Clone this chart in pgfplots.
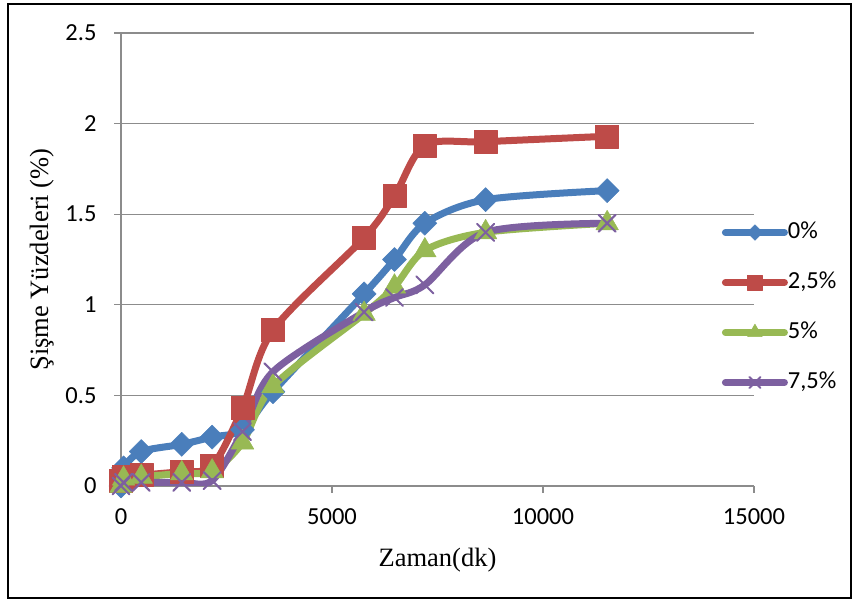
\documentclass[border=0pt]{standalone}
\usepackage{fontspec}
\setmainfont{Carlito}
\newfontfamily\seriffont{Liberation Serif}
\usepackage{pgfplots}
\pgfplotsset{compat=1.18}
\definecolor{cblue}{HTML}{4A7EBB}
\definecolor{cred}{HTML}{BE4B48}
\definecolor{cgreen}{HTML}{98B954}
\definecolor{cpurple}{HTML}{7D60A0}
\definecolor{cgrid}{HTML}{8C8C8C}
\begin{document}
\begin{tikzpicture}[x=1bp,y=1bp]
\useasboundingbox (0,0) rectangle (854,601);
\draw[line width=1.5bp] (8,3) rectangle (851,597);
\begin{axis}[
  at={(121bp,115bp)}, anchor=south west,
  scale only axis, width=633bp, height=453bp,
  xmin=0, xmax=15000, ymin=0, ymax=2.5,
  axis x line=bottom, axis y line=left,
  axis line style={draw=cgrid, line width=1.2bp, -},
  xtick={0,5000,10000,15000},
  ytick={0,0.5,1,1.5,2,2.5},
  scaled ticks=false,
  ymajorgrids, grid style={draw=cgrid, line width=1.2bp},
  tick align=outside, major tick length=7bp,
  tick style={draw=cgrid, line width=1.2bp},
  /pgf/number format/assume math mode=true,
  /pgf/number format/1000 sep={},
  every tick label/.append style={font=\fontsize{24.5bp}{29bp}\selectfont},
  xticklabel style={yshift=-12bp},
  yticklabel style={xshift=-14bp},
  xlabel={\seriffont Zaman(dk)},
  ylabel={\seriffont Şişme Yüzdeleri (\%)},
  label style={font=\fontsize{26.5bp}{31bp}\selectfont},
  xlabel style={at={(axis description cs:0.5,-0.163)}, anchor=center},
  ylabel style={at={(axis description cs:-0.125,0.5)}, anchor=center},
  legend style={at={(axis description cs:0.949,0.394)}, anchor=west, draw=none, fill=none,
    font=\fontsize{24.5bp}{29bp}\selectfont, inner sep=0pt, row sep=28bp,
    nodes={inner sep=0pt, text height=17bp, text depth=5bp}},
  legend cell align=left,
  legend image code/.code={\draw[#1, mark repeat=2, mark phase=2, every mark/.append style={scale=0.65}] plot coordinates {(0bp,0bp) (29.5bp,0bp) (59bp,0bp)};},
  every axis plot/.append style={line width=7bp, smooth, line cap=round, line join=round},
]
\addplot[cblue, mark=square*, mark size=8.5bp, mark options={rotate=45, line width=0.5bp, fill=cblue}] coordinates {
(0,0) (60,0.1) (480,0.19) (1440,0.23) (2160,0.27) (2880,0.31) (3600,0.52) (5760,1.06) (6480,1.25) (7200,1.45) (8640,1.58) (11520,1.63)};
\addlegendentry{0\%}
\addplot[cred, mark=square*, mark size=11.5bp, mark options={line width=0.5bp, fill=cred}] coordinates {
(0,0.03) (60,0.05) (480,0.06) (1440,0.08) (2160,0.11) (2880,0.43) (3600,0.86) (5760,1.37) (6480,1.6) (7200,1.88) (8640,1.9) (11520,1.93)};
\addlegendentry{2,5\%}
\addplot[cgreen, mark=triangle*, mark size=13bp, mark options={line width=0.5bp, fill=cgreen}] coordinates {
(0,0) (60,0.04) (480,0.05) (1440,0.07) (2160,0.08) (2880,0.24) (3600,0.55) (5760,0.95) (6480,1.1) (7200,1.3) (8640,1.4) (11520,1.45)};
\addlegendentry{5\%}
\addplot[cpurple, mark=x, mark size=12bp, mark options={line width=2bp}] coordinates {
(0,0) (60,0.02) (480,0.02) (1440,0.02) (2160,0.03) (2880,0.3) (3600,0.63) (5760,0.96) (6480,1.04) (7200,1.11) (8640,1.4) (11520,1.45)};
\addlegendentry{7,5\%}
\end{axis}
\end{tikzpicture}
\end{document}
